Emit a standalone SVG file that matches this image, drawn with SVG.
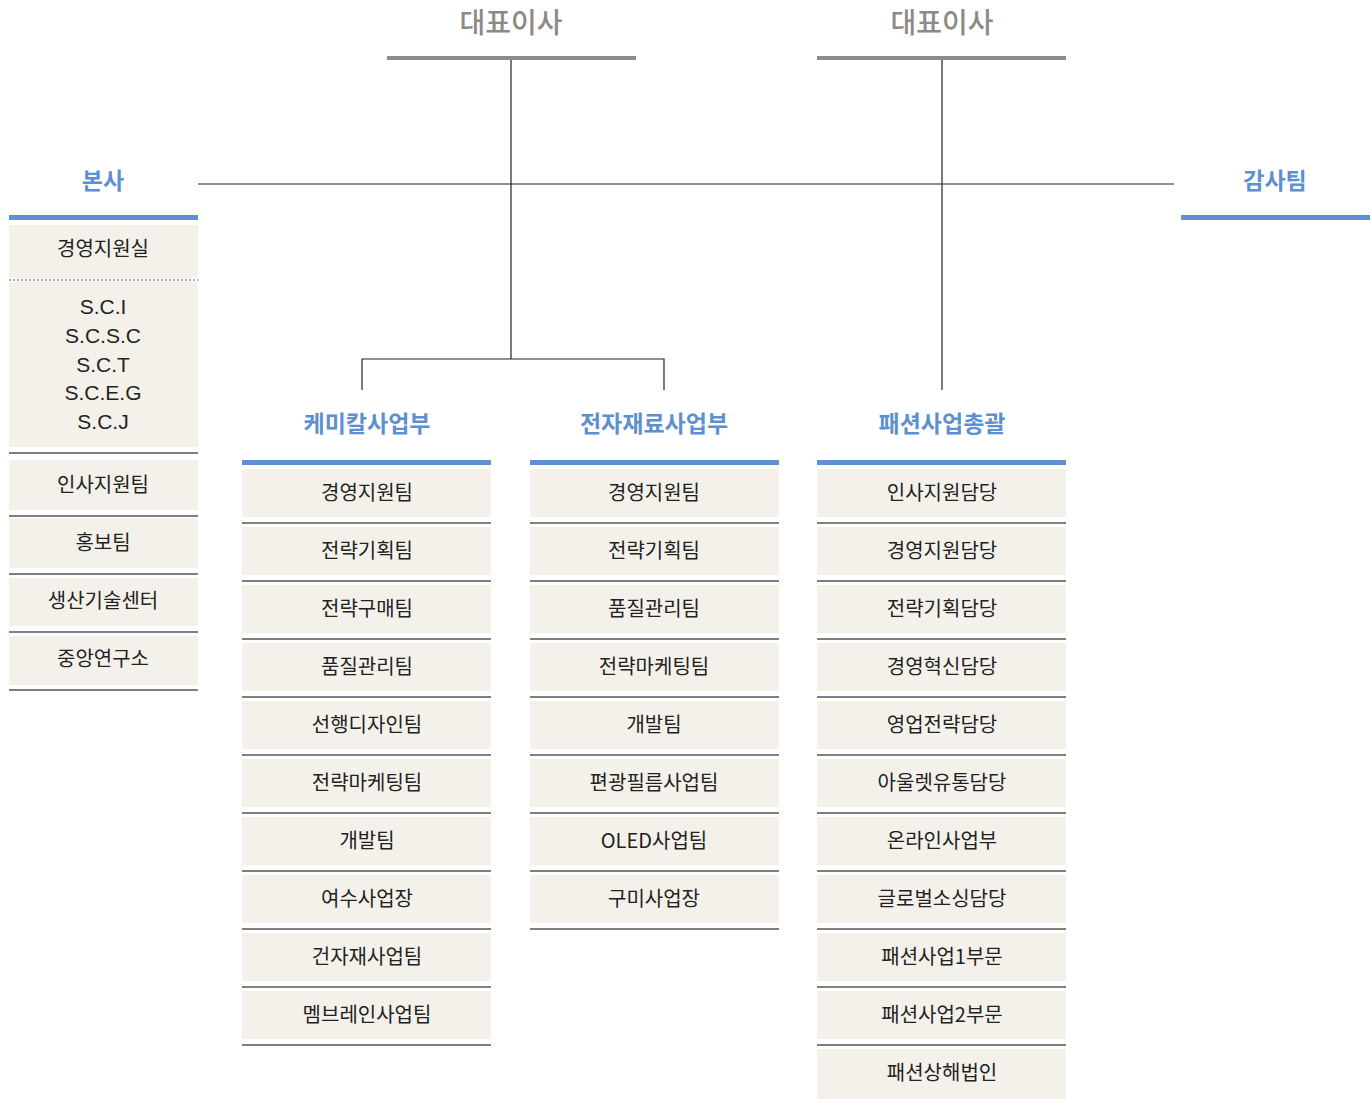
<svg xmlns="http://www.w3.org/2000/svg" width="1372" height="1099" viewBox="0 0 1372 1099">
<style>
.t{font-family:"Noto Sans CJK KR","Noto Sans",sans-serif;font-size:20px;fill:#222;text-anchor:middle}
.l{font-family:"Liberation Sans","Noto Sans CJK KR",sans-serif;font-size:21px;fill:#222;text-anchor:middle}
.h{font-family:"Noto Sans CJK KR","Noto Sans",sans-serif;font-size:23px;font-weight:bold;fill:#5d90d0;text-anchor:middle}
.ceo{font-family:"Noto Sans CJK KR","Noto Sans",sans-serif;font-size:28px;font-weight:500;fill:#8d8985;text-anchor:middle}
.bx{fill:#f4f1eb}
.sep{stroke:#555;stroke-width:1.6}
.bb{fill:#5d90d0}
.gb{fill:#8f8b87}
.c{stroke:#222;stroke-width:1.2;fill:none}
</style>
<rect width="1372" height="1099" fill="#fff"/>
<g id="connectors">
<path class="c" d="M511 60V359M362 390V359H664V390M942 60V390M198 184H1174"/>
</g>
<g id="ceo1"><text class="ceo" x="511" y="33">대표이사</text><rect class="gb" x="387" y="56" width="249" height="4"/></g>
<g id="ceo2"><text class="ceo" x="942" y="33">대표이사</text><rect class="gb" x="817" y="56" width="249" height="4"/></g>
<g id="hq">
<text class="h" x="103" y="189">본사</text>
<rect class="bb" x="9" y="215" width="189" height="5"/>
<rect class="bx" x="9" y="225" width="189" height="53"/>
<text class="t" x="103" y="256">경영지원실</text>
<line x1="9" y1="280" x2="198" y2="280" stroke="#555" stroke-width="1" stroke-dasharray="2,2"/>
<rect class="bx" x="9" y="282" width="189" height="165"/>
<text class="l" x="103" y="314">S.C.I</text>
<text class="l" x="103" y="343">S.C.S.C</text>
<text class="l" x="103" y="372">S.C.T</text>
<text class="l" x="103" y="400">S.C.E.G</text>
<text class="l" x="103" y="429">S.C.J</text>
<line class="sep" x1="9" y1="453" x2="198" y2="453"/>
<rect class="bx" x="9" y="460" width="189" height="50"/>
<text class="t" x="103" y="492">인사지원팀</text>
<line class="sep" x1="9" y1="516" x2="198" y2="516"/>
<rect class="bx" x="9" y="518" width="189" height="50"/>
<text class="t" x="103" y="550">홍보팀</text>
<line class="sep" x1="9" y1="574" x2="198" y2="574"/>
<rect class="bx" x="9" y="578" width="189" height="48"/>
<text class="t" x="103" y="608">생산기술센터</text>
<line class="sep" x1="9" y1="632" x2="198" y2="632"/>
<rect class="bx" x="9" y="636" width="189" height="49"/>
<text class="t" x="103" y="666">중앙연구소</text>
<line class="sep" x1="9" y1="690" x2="198" y2="690"/>
</g>
<g id="audit">
<text class="h" x="1275" y="189">감사팀</text>
<rect class="bb" x="1181" y="215" width="189" height="5"/>
</g>
<g id="chemical">
<text class="h" x="367" y="432">케미칼사업부</text>
<rect class="bb" x="242" y="460" width="249" height="5"/>
<rect class="bx" x="242" y="469" width="249" height="48"/><text class="t" x="367" y="500">경영지원팀</text><line class="sep" x1="242" y1="523" x2="491" y2="523"/>
<rect class="bx" x="242" y="527" width="249" height="48"/><text class="t" x="367" y="558">전략기획팀</text><line class="sep" x1="242" y1="581" x2="491" y2="581"/>
<rect class="bx" x="242" y="585" width="249" height="48"/><text class="t" x="367" y="616">전략구매팀</text><line class="sep" x1="242" y1="639" x2="491" y2="639"/>
<rect class="bx" x="242" y="643" width="249" height="48"/><text class="t" x="367" y="674">품질관리팀</text><line class="sep" x1="242" y1="697" x2="491" y2="697"/>
<rect class="bx" x="242" y="701" width="249" height="48"/><text class="t" x="367" y="732">선행디자인팀</text><line class="sep" x1="242" y1="755" x2="491" y2="755"/>
<rect class="bx" x="242" y="759" width="249" height="48"/><text class="t" x="367" y="790">전략마케팅팀</text><line class="sep" x1="242" y1="813" x2="491" y2="813"/>
<rect class="bx" x="242" y="817" width="249" height="48"/><text class="t" x="367" y="848">개발팀</text><line class="sep" x1="242" y1="871" x2="491" y2="871"/>
<rect class="bx" x="242" y="875" width="249" height="48"/><text class="t" x="367" y="906">여수사업장</text><line class="sep" x1="242" y1="929" x2="491" y2="929"/>
<rect class="bx" x="242" y="933" width="249" height="48"/><text class="t" x="367" y="964">건자재사업팀</text><line class="sep" x1="242" y1="987" x2="491" y2="987"/>
<rect class="bx" x="242" y="991" width="249" height="48"/><text class="t" x="367" y="1022">멤브레인사업팀</text><line class="sep" x1="242" y1="1045" x2="491" y2="1045"/>
</g>
<g id="electronic">
<text class="h" x="654" y="432">전자재료사업부</text>
<rect class="bb" x="530" y="460" width="249" height="5"/>
<rect class="bx" x="530" y="469" width="249" height="48"/><text class="t" x="654" y="500">경영지원팀</text><line class="sep" x1="530" y1="523" x2="779" y2="523"/>
<rect class="bx" x="530" y="527" width="249" height="48"/><text class="t" x="654" y="558">전략기획팀</text><line class="sep" x1="530" y1="581" x2="779" y2="581"/>
<rect class="bx" x="530" y="585" width="249" height="48"/><text class="t" x="654" y="616">품질관리팀</text><line class="sep" x1="530" y1="639" x2="779" y2="639"/>
<rect class="bx" x="530" y="643" width="249" height="48"/><text class="t" x="654" y="674">전략마케팅팀</text><line class="sep" x1="530" y1="697" x2="779" y2="697"/>
<rect class="bx" x="530" y="701" width="249" height="48"/><text class="t" x="654" y="732">개발팀</text><line class="sep" x1="530" y1="755" x2="779" y2="755"/>
<rect class="bx" x="530" y="759" width="249" height="48"/><text class="t" x="654" y="790">편광필름사업팀</text><line class="sep" x1="530" y1="813" x2="779" y2="813"/>
<rect class="bx" x="530" y="817" width="249" height="48"/><text class="t" x="654" y="848">OLED사업팀</text><line class="sep" x1="530" y1="871" x2="779" y2="871"/>
<rect class="bx" x="530" y="875" width="249" height="48"/><text class="t" x="654" y="906">구미사업장</text><line class="sep" x1="530" y1="929" x2="779" y2="929"/>
</g>
<g id="fashion">
<text class="h" x="942" y="432">패션사업총괄</text>
<rect class="bb" x="817" y="460" width="249" height="5"/>
<rect class="bx" x="817" y="469" width="249" height="48"/><text class="t" x="942" y="500">인사지원담당</text><line class="sep" x1="817" y1="523" x2="1066" y2="523"/>
<rect class="bx" x="817" y="527" width="249" height="48"/><text class="t" x="942" y="558">경영지원담당</text><line class="sep" x1="817" y1="581" x2="1066" y2="581"/>
<rect class="bx" x="817" y="585" width="249" height="48"/><text class="t" x="942" y="616">전략기획담당</text><line class="sep" x1="817" y1="639" x2="1066" y2="639"/>
<rect class="bx" x="817" y="643" width="249" height="48"/><text class="t" x="942" y="674">경영혁신담당</text><line class="sep" x1="817" y1="697" x2="1066" y2="697"/>
<rect class="bx" x="817" y="701" width="249" height="48"/><text class="t" x="942" y="732">영업전략담당</text><line class="sep" x1="817" y1="755" x2="1066" y2="755"/>
<rect class="bx" x="817" y="759" width="249" height="48"/><text class="t" x="942" y="790">아울렛유통담당</text><line class="sep" x1="817" y1="813" x2="1066" y2="813"/>
<rect class="bx" x="817" y="817" width="249" height="48"/><text class="t" x="942" y="848">온라인사업부</text><line class="sep" x1="817" y1="871" x2="1066" y2="871"/>
<rect class="bx" x="817" y="875" width="249" height="48"/><text class="t" x="942" y="906">글로벌소싱담당</text><line class="sep" x1="817" y1="929" x2="1066" y2="929"/>
<rect class="bx" x="817" y="933" width="249" height="48"/><text class="t" x="942" y="964">패션사업1부문</text><line class="sep" x1="817" y1="987" x2="1066" y2="987"/>
<rect class="bx" x="817" y="991" width="249" height="48"/><text class="t" x="942" y="1022">패션사업2부문</text><line class="sep" x1="817" y1="1045" x2="1066" y2="1045"/>
<rect class="bx" x="817" y="1049" width="249" height="50"/><text class="t" x="942" y="1080">패션상해법인</text>
</g>
</svg>
